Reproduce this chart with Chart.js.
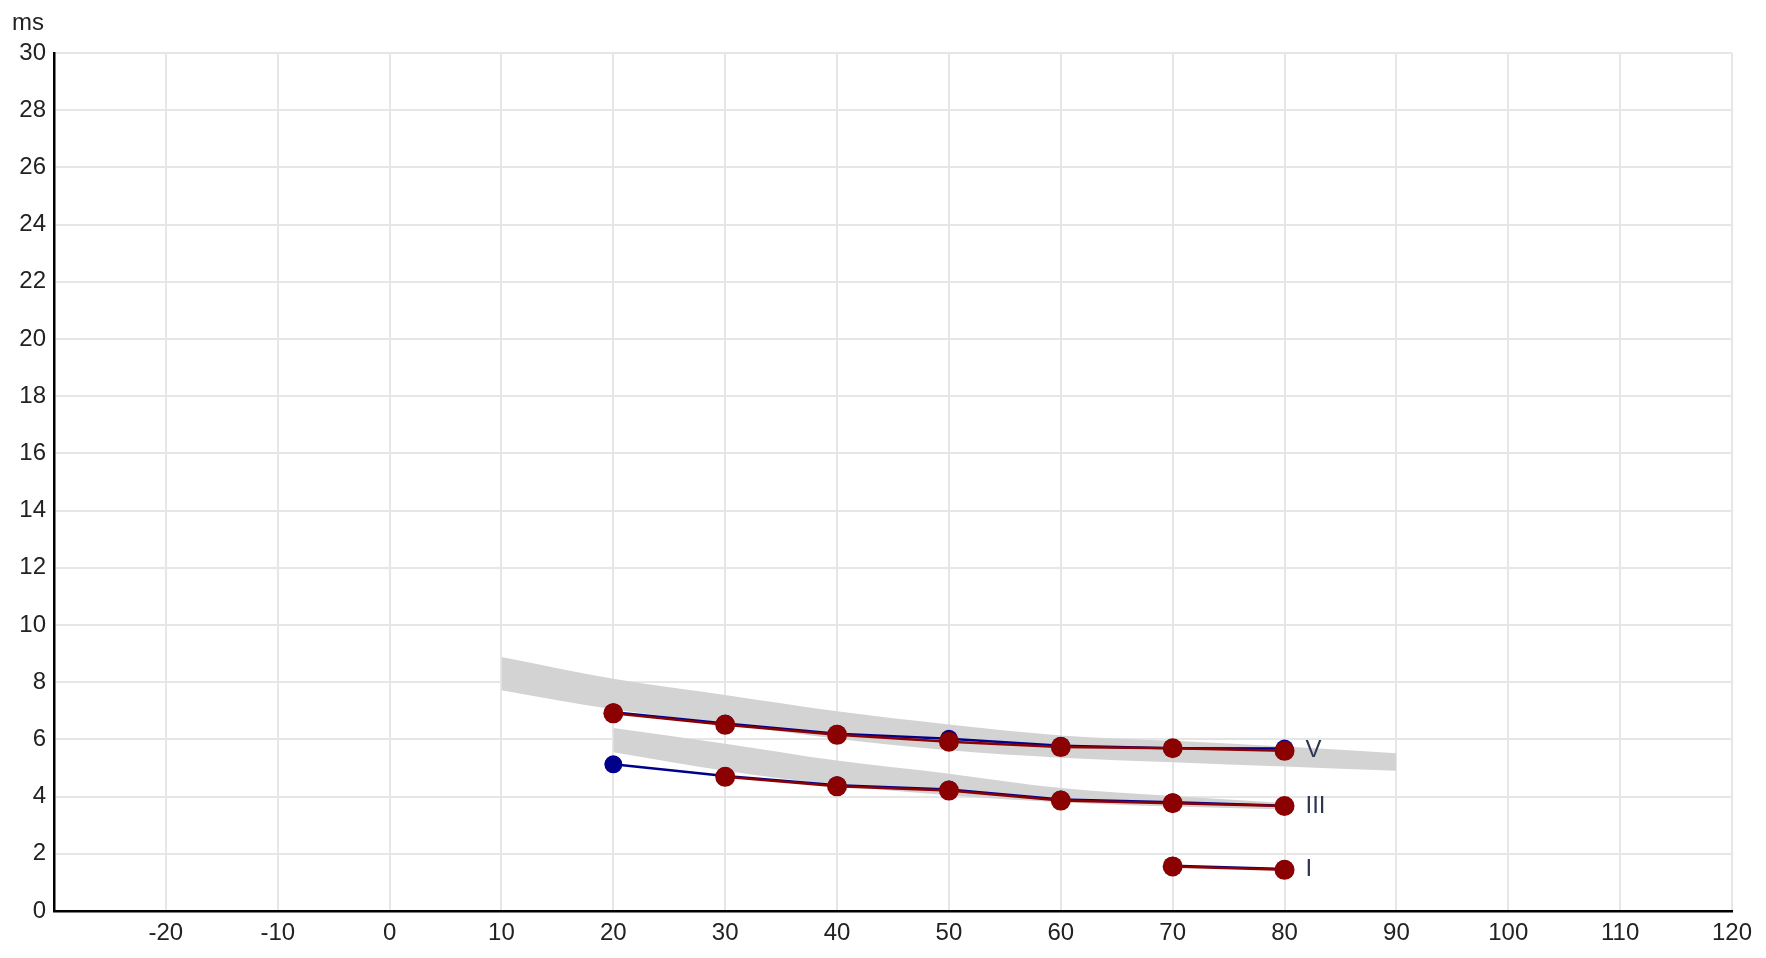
<!DOCTYPE html>
<html>
<head>
<meta charset="utf-8">
<style>
  html, body { margin: 0; padding: 0; background: #fff; }
  #wrap { width: 1766px; height: 958px; }
</style>
<script src="https://cdn.jsdelivr.net/npm/chart.js@4.4.1/dist/chart.umd.min.js"></script>
</head>
<body>
<div id="wrap"><canvas id="latencyChart" width="1766" height="958"></canvas></div>
<script>
// ---------- data (dB nHL vs latency in ms) ----------
const levels = [20, 30, 40, 50, 60, 70, 80];
const levelsI = [70, 80];

const rightV = [6.91, 6.51, 6.16, 5.92, 5.73, 5.69, 5.60];
const leftV = [6.95, 6.56, 6.20, 6.02, 5.78, 5.69, 5.68];
const rightIII = [null, 4.69, 4.36, 4.21, 3.86, 3.77, 3.67];
const leftIII = [5.13, 4.72, 4.40, 4.25, 3.90, 3.80, 3.68];
const rightI = [1.56, 1.44];
const leftI = [1.58, 1.47];

// normative bands
const bandVLevels = [10, 20, 30, 40, 50, 60, 70, 80, 90];
const bandVTop = [8.88, 8.12, 7.55, 6.98, 6.52, 6.14, 5.95, 5.75, 5.52];
const bandVBottom = [7.72, 7.05, 6.55, 6.02, 5.62, 5.36, 5.20, 5.05, 4.90];
const bandIIILevels = [20, 30, 40, 50, 60, 70, 80];
const bandIIITop = [6.40, 5.85, 5.26, 4.80, 4.30, 4.02, 3.78];
const bandIIIBottom = [5.55, 4.90, 4.40, 4.05, 3.80, 3.65, 3.55];

const waveLabels = ['V', 'III', 'I'];
const waveLabelAt = [rightV[6], rightIII[6], rightI[1]];
const labelLevel = 80;

const xTicks = [-30, -20, -10, 0, 10, 20, 30, 40, 50, 60, 70, 80, 90, 100, 110, 120];

const RED = '#8b0000';
const BLUE = '#00008b';
const BAND = '#d3d3d3';
const GRID = '#e6e6e6';
const TEXT = '#222';
const FONT = '"Liberation Sans", Arial, sans-serif';

function pts(xs, ys) {
    return xs.map((x, i) => ({ x, y: ys[i] }));
}

function earSet(xs, ys, color, radius, width) {
    return {
        data: pts(xs, ys),
        borderColor: color,
        backgroundColor: color,
        pointBackgroundColor: color,
        pointBorderWidth: 0,
        pointRadius: radius,
        borderWidth: width,
        tension: 0,
        fill: false,
        order: color === RED ? 0 : 1,
    };
}

function bandSet(xs, ys, fill) {
    return {
        data: pts(xs, ys),
        borderWidth: 0,
        pointRadius: 0,
        borderColor: 'rgba(0,0,0,0)',
        backgroundColor: BAND,
        cubicInterpolationMode: 'monotone',
        fill: fill,
        order: 5,
    };
}

// ---------- overlay text: "ms" and wave names ----------
const overlayText = {
    id: 'overlayText',
    afterDraw(chart) {
        const { ctx, scales } = chart;
        ctx.save();
        ctx.fillStyle = TEXT;
        ctx.font = '24px ' + FONT;
        ctx.textAlign = 'left';
        ctx.textBaseline = 'alphabetic';
        ctx.fillText('ms', 12, 30);

        ctx.fillStyle = '#2e3550';
        ctx.textBaseline = 'middle';
        waveLabels.forEach((name, i) => {
            const px = scales.x.getPixelForValue(labelLevel) + 21;
            const py = scales.y.getPixelForValue(waveLabelAt[i]);
            ctx.fillText(name, px, py);
        });
        ctx.restore();
    }
};

const canvas = document.getElementById('latencyChart');
new Chart(canvas, {
    type: 'line',
    data: {
        datasets: [
            earSet(levels, rightV, RED, 10, 2.5),
            earSet(levels, rightIII, RED, 10, 2.5),
            earSet(levelsI, rightI, RED, 10, 2.5),
            earSet(levels, leftV, BLUE, 9, 2.5),
            earSet(levels, leftIII, BLUE, 9, 2.5),
            earSet(levelsI, leftI, BLUE, 9, 2.5),
            bandSet(bandVLevels, bandVTop, false),
            bandSet(bandVLevels, bandVBottom, '-1'),
            bandSet(bandIIILevels, bandIIITop, false),
            bandSet(bandIIILevels, bandIIIBottom, '-1'),
        ]
    },
    options: {
        responsive: false,
        animation: false,
        devicePixelRatio: 1,
        layout: { autoPadding: false, padding: { top: 53, right: 34, left: 0, bottom: 0 } },
        plugins: {
            legend: { display: false },
            tooltip: { enabled: false },
        },
        scales: {
            x: {
                type: 'linear',
                min: -30,
                max: 120,
                afterBuildTicks: (scale) => { scale.ticks = xTicks.map(v => ({ value: v })); },
                afterFit: (scale) => {
                    scale.height = 47;
                    scale.paddingLeft = 0;
                    scale.paddingRight = 0;
                },
                ticks: {
                    color: TEXT,
                    font: { family: FONT, size: 24 },
                    padding: 8,
                    maxRotation: 0,
                    callback: (v) => v === -30 ? '' : v,
                },
                grid: { color: GRID, lineWidth: 2, drawTicks: false },
                border: { color: '#000', width: 2.5 },
            },
            y: {
                min: 0,
                max: 30,
                afterFit: (scale) => {
                    scale.width = 54;
                    scale.paddingTop = 0;
                    scale.paddingBottom = 0;
                },
                ticks: {
                    stepSize: 2,
                    color: TEXT,
                    font: { family: FONT, size: 24 },
                    padding: 8,
                },
                grid: { color: GRID, lineWidth: 2, drawTicks: false },
                border: { color: '#000', width: 2.5 },
            }
        }
    },
    plugins: [overlayText]
});
</script>
</body>
</html>
